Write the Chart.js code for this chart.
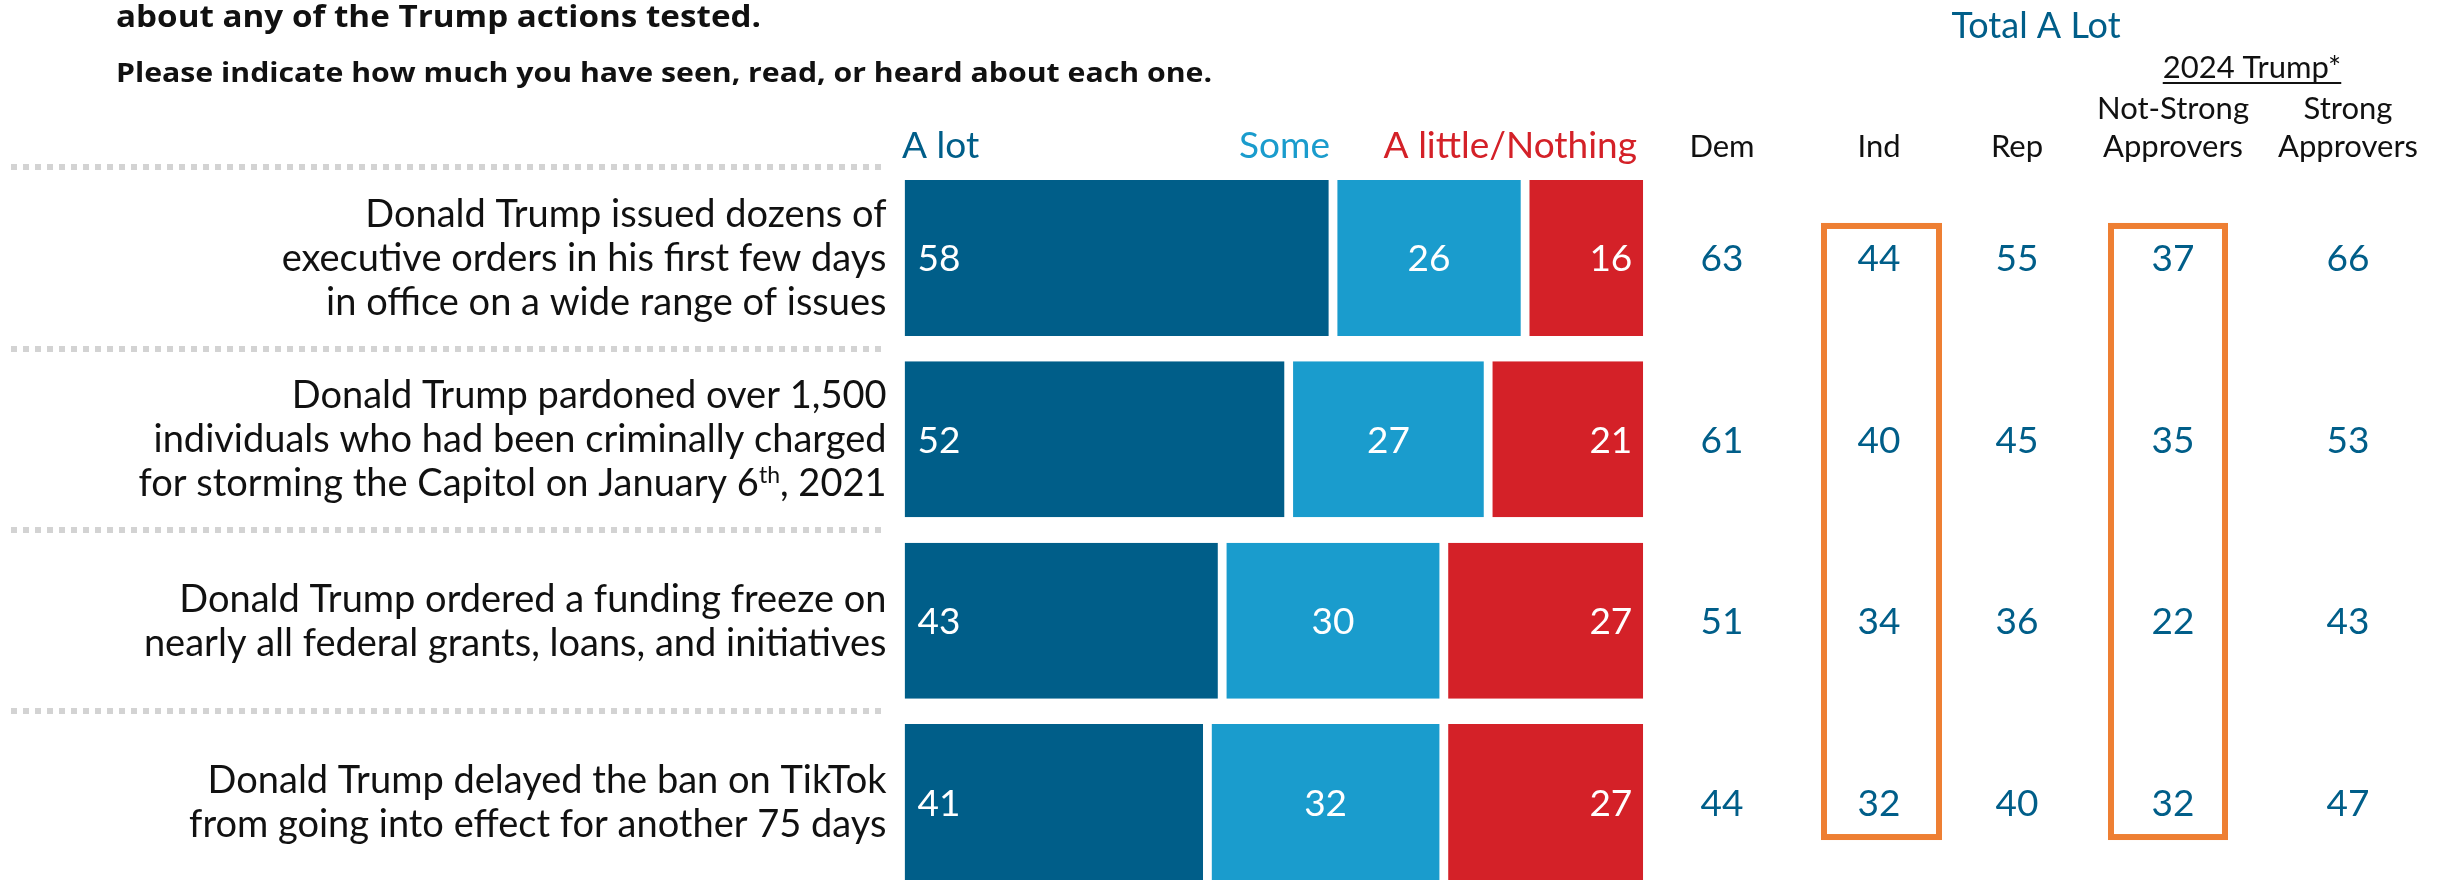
<!DOCTYPE html>
<html>
<head>
<meta charset="utf-8">
<script src="https://cdn.jsdelivr.net/npm/chart.js@4.4.1/dist/chart.umd.min.js"></script>
<style>
  html, body { margin: 0; padding: 0; background: #fff; overflow: hidden; width: 2445px; height: 882px; }
  canvas { display: block; }
</style>
</head>
<body>
<canvas id="chart" width="2445" height="900"></canvas>
<script>
// ---- data ----
const categories = [
  ['Donald Trump issued dozens of', 'executive orders in his first few days', 'in office on a wide range of issues'],
  ['Donald Trump pardoned over 1,500', 'individuals who had been criminally charged', 'for storming the Capitol on January 6^th, 2021'],
  ['Donald Trump ordered a funding freeze on', 'nearly all federal grants, loans, and initiatives'],
  ['Donald Trump delayed the ban on TikTok', 'from going into effect for another 75 days']
];
const seriesNames = ['A lot', 'Some', 'A little/Nothing'];
const aLot = [58, 52, 43, 41];
const some = [26, 27, 30, 32];
const littleNothing = [16, 21, 27, 27];

// Total A Lot, by group
const groupNames = ['Dem', 'Ind', 'Rep', 'Not-Strong Approvers', 'Strong Approvers'];
const dem = [63, 61, 51, 44];
const ind = [44, 40, 34, 32];
const rep = [55, 45, 36, 40];
const notStrong = [37, 35, 22, 32];
const strong = [66, 53, 43, 47];

const titleLines = ['about any of the Trump actions tested.', 'Please indicate how much you have seen, read, or heard about each one.'];

// ---- look ----
const C = {
  dark: '#005E89',
  light: '#1A9CCD',
  red: '#D42128',
  ink: '#111111',
  dots: '#D3D3D3',
  box: '#EE7F33'
};
const SANS = 'Lato, "Noto Sans", sans-serif';
const BOLD = '"Open Sans", "Noto Sans", sans-serif';
const GAP = 4.4; // half of the white gap between segments

// columns on the right: values + x centre
const columns = [
  { vals: dem, x: 1722 },
  { vals: ind, x: 1879 },
  { vals: rep, x: 2017 },
  { vals: notStrong, x: 2173 },
  { vals: strong, x: 2348 }
];

function font(size, family, weight) {
  return (weight ? weight + ' ' : '') + size + 'px ' + family;
}

// left-aligned text stretched to a given width (the original uses a condensed face)
function fillFit(ctx, str, x, yBase, width) {
  const w = ctx.measureText(str).width;
  ctx.save();
  ctx.translate(x, yBase);
  ctx.scale(width / w, 1);
  ctx.textAlign = 'left';
  ctx.fillText(str, 0, 0);
  ctx.restore();
}

// right-aligned text with ^superscript support
function drawRich(ctx, str, xRight, yBase, size) {
  const parts = str.split(/(\^\w+)/).filter(Boolean).map(p =>
    p[0] === '^' ? { t: p.slice(1), sup: true } : { t: p, sup: false });
  let total = 0;
  parts.forEach(p => {
    ctx.font = font(p.sup ? Math.round(size * 0.6) : size, SANS);
    p.w = ctx.measureText(p.t).width;
    total += p.w;
  });
  let xx = xRight - total;
  ctx.textAlign = 'left';
  parts.forEach(p => {
    ctx.font = font(p.sup ? Math.round(size * 0.6) : size, SANS);
    ctx.fillText(p.t, xx, p.sup ? yBase - size * 0.36 : yBase);
    xx += p.w;
  });
}

const overlay = {
  id: 'overlay',
  afterDraw(chart) {
    const { ctx, scales: { y } } = chart;
    const pitch = y.getPixelForValue(1) - y.getPixelForValue(0);
    ctx.save();
    ctx.textBaseline = 'alphabetic';

    // titles
    ctx.fillStyle = C.ink;
    ctx.font = font(30, BOLD, 'bold');
    fillFit(ctx, titleLines[0], 116, 27, 645);
    ctx.font = font(26, BOLD, 'bold');
    fillFit(ctx, titleLines[1], 116, 82, 1096);

    // legend-like headers above bars
    ctx.font = font(37, SANS);
    ctx.fillStyle = C.dark; ctx.textAlign = 'left';
    ctx.fillText(seriesNames[0], 902, 158);
    ctx.fillStyle = C.light; ctx.textAlign = 'right';
    ctx.fillText(seriesNames[1], 1330, 158);
    ctx.fillStyle = C.red; ctx.textAlign = 'right';
    ctx.fillText(seriesNames[2], 1637, 158);

    // column headers
    ctx.textAlign = 'center';
    ctx.fillStyle = C.dark;
    ctx.font = font(36, SANS);
    ctx.fillText('Total A Lot', 2036, 38);
    ctx.fillStyle = C.ink;
    ctx.font = font(31, SANS);
    const tw = ctx.measureText('2024 Trump*').width;
    ctx.fillText('2024 Trump*', 2252, 78);
    ctx.fillRect(2252 - tw / 2, 82, tw, 2);
    columns.forEach((c, k) => {
      const words = groupNames[k].split(' ');
      if (words.length > 1) {
        ctx.fillText(words[0], c.x, 119);
        ctx.fillText(words[1], c.x, 157);
      } else {
        ctx.fillText(words[0], c.x, 157);
      }
    });

    // dotted separators + category labels
    categories.forEach((lines, i) => {
      const cy = y.getPixelForValue(i);
      ctx.fillStyle = C.dots;
      const sy = Math.round(cy - pitch / 2 - 3);
      for (let xx = 11; xx + 6 <= 884; xx += 12) ctx.fillRect(xx, sy, 6, 6);

      ctx.fillStyle = C.ink;
      const n = lines.length;
      lines.forEach((ln, j) => {
        drawRich(ctx, ln, 886.5, cy + 13 + (j - (n - 1) / 2) * 44, 38);
      });
    });

    // values inside bars
    ctx.font = font(37, SANS);
    ctx.fillStyle = '#fff';
    chart.data.datasets.forEach((ds, d) => {
      chart.getDatasetMeta(d).data.forEach((bar, i) => {
        const yb = bar.y + 13.5;
        const v = String(ds.data[i]);
        if (d === 0) { ctx.textAlign = 'left'; ctx.fillText(v, bar.base + 13, yb); }
        else if (d === 1) { ctx.textAlign = 'center'; ctx.fillText(v, (bar.base + bar.x) / 2, yb); }
        else { ctx.textAlign = 'right'; ctx.fillText(v, bar.x - 11, yb); }
      });
    });

    // right-hand columns
    ctx.fillStyle = C.dark;
    ctx.textAlign = 'center';
    columns.forEach(c => {
      c.vals.forEach((v, i) => ctx.fillText(String(v), c.x, y.getPixelForValue(i) + 13.5));
    });

    // orange highlight boxes (Ind, Not-Strong)
    const top = y.getPixelForValue(0) - 35;
    const bottom = y.getPixelForValue(categories.length - 1) + 38;
    ctx.strokeStyle = C.box;
    ctx.lineWidth = 6;
    [[1821, 1942], [2108, 2228]].forEach(([l, r]) => {
      ctx.strokeRect(l + 3, top + 3, r - l - 6, bottom - top - 6);
    });

    ctx.restore();
  }
};

const segBorder = [
  { top: 0, bottom: 0, left: 0, right: GAP },
  { top: 0, bottom: 0, left: GAP, right: GAP },
  { top: 0, bottom: 0, left: GAP, right: 0 }
];
const segColors = [C.dark, C.light, C.red];

new Chart(document.getElementById('chart'), {
  type: 'bar',
  data: {
    labels: categories.map(c => c[0]),
    datasets: [aLot, some, littleNothing].map((data, d) => ({
      label: seriesNames[d],
      data,
      backgroundColor: segColors[d],
      borderColor: '#ffffff',
      borderWidth: segBorder[d],
      borderSkipped: false
    }))
  },
  options: {
    indexAxis: 'y',
    responsive: false,
    animation: false,
    layout: { padding: { left: 904.5, right: 801.7, top: 167.3, bottom: 7.3 } },
    datasets: { bar: { barPercentage: 0.86, categoryPercentage: 1 } },
    scales: {
      x: { stacked: true, min: 0, max: 100, display: false },
      y: { stacked: true, display: false }
    },
    plugins: { legend: { display: false }, tooltip: { enabled: false } }
  },
  plugins: [overlay]
});
</script>
</body>
</html>
